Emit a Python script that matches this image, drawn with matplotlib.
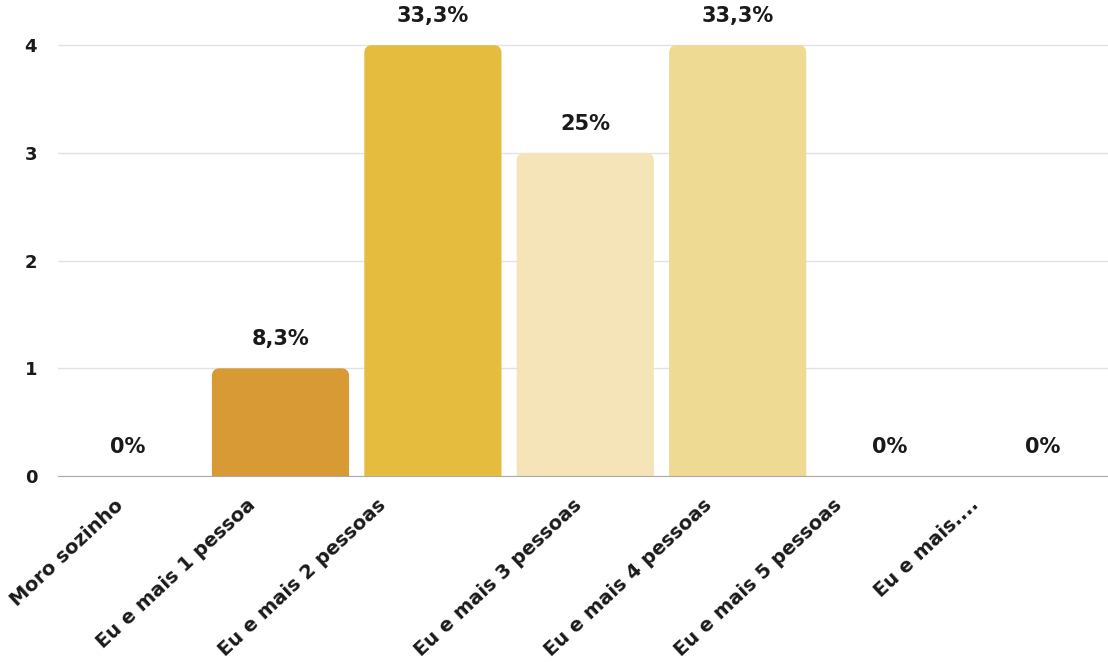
import numpy as np
import matplotlib.pyplot as plt
import matplotlib.transforms as mtransforms
from matplotlib.patches import FancyBboxPatch

# Respostas: quantas pessoas moram com você
categorias = ["Moro sozinho", "Eu e mais 1 pessoa", "Eu e mais 2 pessoas",
              "Eu e mais 3 pessoas", "Eu e mais 4 pessoas", "Eu e mais 5 pessoas",
              "Eu e mais...."]
contagens = [0, 1, 4, 3, 4, 0, 0]
rotulos = ["0%", "8,3%", "33,3%", "25%", "33,3%", "0%", "0%"]
cores = ["#D89A35", "#D89A35", "#E5BC3E", "#F5E4B8", "#EFDA93", "#EFDA93", "#EFDA93"]

plt.rcParams['font.family'] = ['DejaVu Sans']
plt.rcParams['font.weight'] = 'bold'

fig = plt.figure(figsize=(11.08, 6.62), dpi=100)
ax = fig.add_axes([58 / 1108, 186 / 662, 1050 / 1108, 476 / 662])

x = np.arange(len(categorias))
bars = ax.bar(x, contagens, width=0.9, color=cores)

# trocar as barras por retângulos com cantos de cima arredondados
for b in bars:
    b.set_visible(False)
    if b.get_height() <= 0:
        continue
    p = FancyBboxPatch((b.get_x(), -0.2), b.get_width(), b.get_height() + 0.2,
                       boxstyle="round,pad=0,rounding_size=0.05",
                       mutation_aspect=1.45, facecolor=b.get_facecolor(),
                       edgecolor='none', zorder=2)
    ax.add_patch(p)

for xi, h, txt in zip(x, contagens, rotulos):
    ax.annotate(txt, (xi, h), xytext=(0, 21), textcoords='offset points',
                ha='center', va='center', fontsize=15, fontweight='bold',
                color='#1a1a1a')

ax.set_xlim(-0.46, 6.43)
ax.set_ylim(0, 4.42)
ax.set_yticks([0, 1, 2, 3, 4])
ax.grid(axis='y', color='#e2e2e2', linewidth=1, zorder=0)
ax.set_axisbelow(True)
for s in ['top', 'right', 'left']:
    ax.spines[s].set_visible(False)
ax.spines['bottom'].set_color('#aaaaaa')
ax.tick_params(axis='both', length=0)
ax.tick_params(axis='y', labelsize=13, pad=15, labelcolor='#1a1a1a')
ax.set_xticks(x)
ax.set_xticklabels(categorias, rotation=43, ha='right', rotation_mode='anchor',
                   fontsize=14, color='#1a1a1a')
ax.tick_params(axis='x', pad=14)

# deslocar os rótulos inclinados para a esquerda (em pixels)
recuo = [14, 34, 56, 13, 35, 57, 73]
for lbl, r in zip(ax.get_xticklabels(), recuo):
    desloc = mtransforms.ScaledTranslation(-r / 100, 0, fig.dpi_scale_trans)
    lbl.set_transform(lbl.get_transform() + desloc)

fig.savefig('out.png', dpi=100, facecolor='white')
